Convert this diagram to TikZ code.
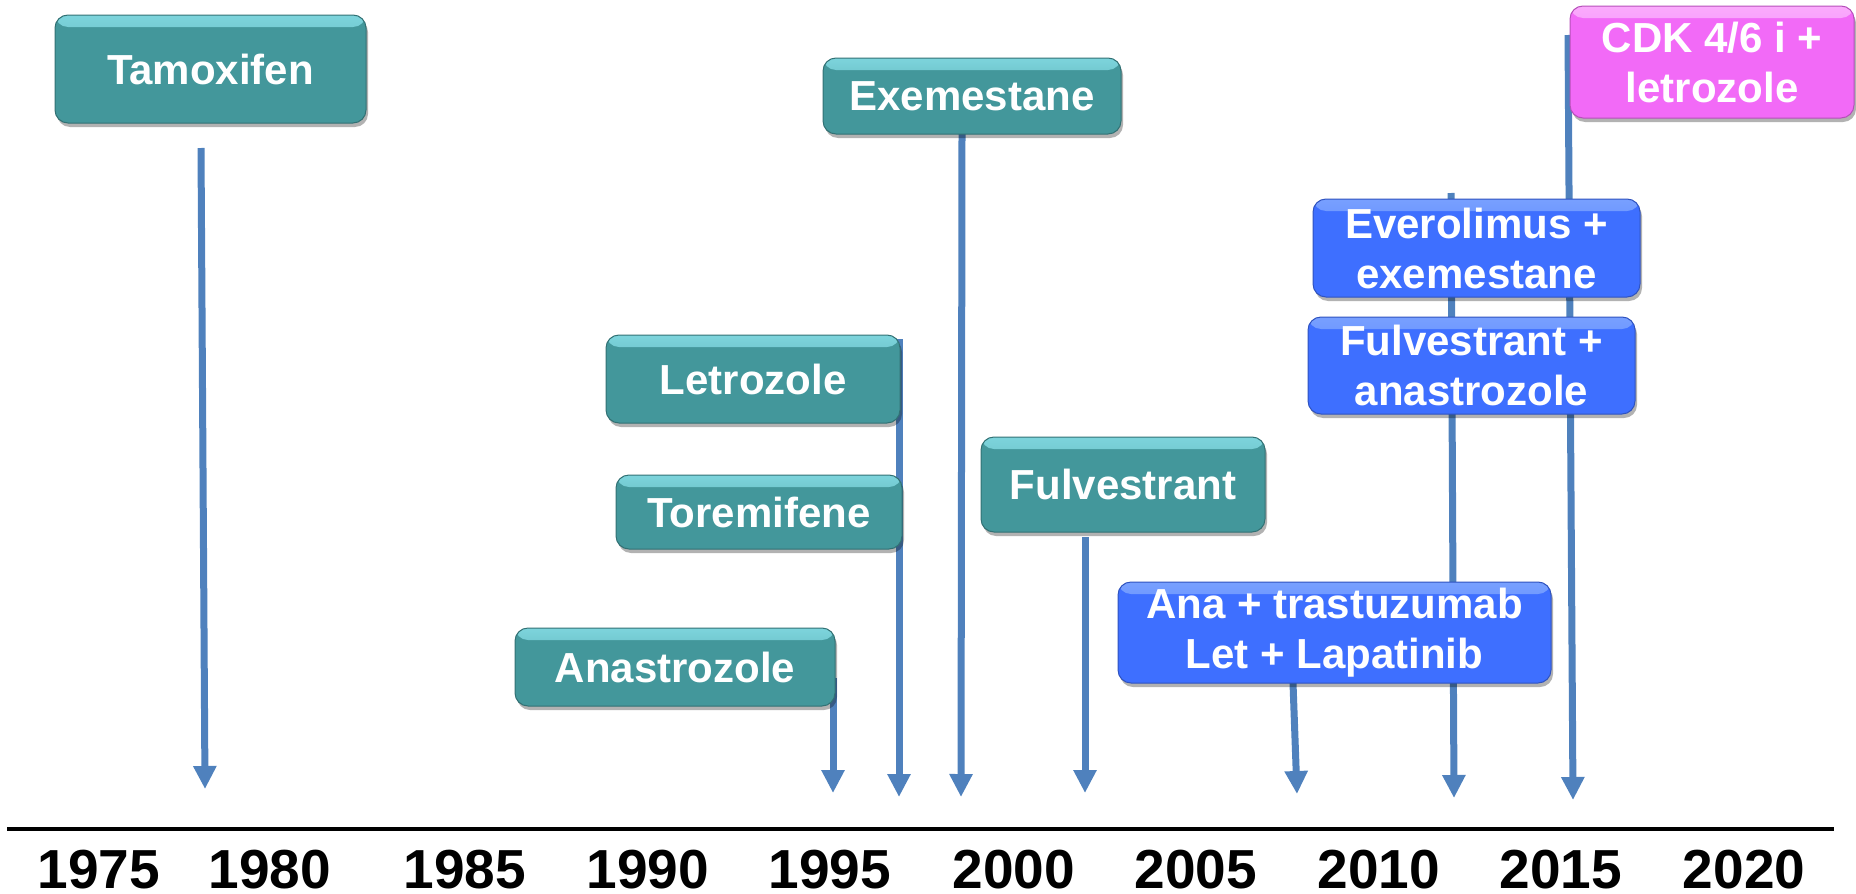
\documentclass[tikz,border=0pt]{standalone}
\usepackage{fontspec}
\setmainfont{Liberation Sans}
\usetikzlibrary{arrows.meta,shadows}
\definecolor{tealbox}{RGB}{67,151,155}
\definecolor{tealtop}{RGB}{125,212,220}
\definecolor{bluebox}{RGB}{62,111,255}
\definecolor{bluetop}{RGB}{120,160,255}
\definecolor{pinkbox}{RGB}{242,106,247}
\definecolor{pinktop}{RGB}{250,170,252}
\definecolor{arrowblue}{RGB}{79,129,189}
\tikzset{
  boxbase/.style={rounded corners=13pt, line width=1pt, text=white,
    font=\fontsize{42}{50}\selectfont\bfseries, align=center, inner sep=0pt,
    drop shadow={shadow xshift=2pt, shadow yshift=-4pt, opacity=0.3, fill=black}},
  tealnode/.style={boxbase, fill=tealbox, draw=tealbox!75!black,
    path picture={\shade[top color=tealtop, bottom color=tealbox]
      (path picture bounding box.north west) rectangle ([yshift=-12pt]path picture bounding box.north east);}},
  bluenode/.style={boxbase, fill=bluebox, draw=bluebox!75!black,
    path picture={\shade[top color=bluetop, bottom color=bluebox]
      (path picture bounding box.north west) rectangle ([yshift=-12pt]path picture bounding box.north east);}},
  pinknode/.style={boxbase, fill=pinkbox, draw=pinkbox!75!black,
    path picture={\shade[top color=pinktop, bottom color=pinkbox]
      (path picture bounding box.north west) rectangle ([yshift=-12pt]path picture bounding box.north east);}},
  timearrow/.style={draw=arrowblue, line width=7pt,
    -{Triangle[width=22pt,length=23pt]}},
  yearlabel/.style={font=\fontsize{55}{60}\selectfont\bfseries, text=black, anchor=base, inner sep=0pt},
}
\begin{document}
\begin{tikzpicture}[x=1pt,y=-1pt]
\useasboundingbox (0,0) rectangle (1856,894);

% arrow end coordinates
\coordinate (tamS) at (201,148);   \coordinate (tamE) at (205,789);
\coordinate (anaS) at (833,678);   \coordinate (anaE) at (833,793);
\coordinate (letS) at (899,339);   \coordinate (letE) at (899,797);
\coordinate (exeS) at (962,134);   \coordinate (exeE) at (961,797);
\coordinate (fulS) at (1085,537);  \coordinate (fulE) at (1085,793);
\coordinate (atrS) at (1293,683);  \coordinate (atrE) at (1297,794);
\coordinate (eveS) at (1451,193);  \coordinate (eveE) at (1454,798);
\coordinate (cdkS) at (1568,35);   \coordinate (cdkE) at (1573,800);

% arrows (behind boxes)
\draw[timearrow] (tamS) -- (tamE);
\draw[timearrow] (anaS) -- (anaE);
\draw[timearrow] (letS) -- (letE);
\draw[timearrow] (exeS) -- (exeE);
\draw[timearrow] (fulS) -- (fulE);
\draw[timearrow] (atrS) -- (atrE);
\draw[timearrow] (eveS) -- (eveE);
\draw[timearrow] (cdkS) -- (cdkE);

% boxes
\node[tealnode, minimum width=311pt, minimum height=108pt] (tam) at (210.5,69) {Tamoxifen};
\node[tealnode, minimum width=298pt, minimum height=76pt] (exe) at (972,96) {Exemestane};
\node[pinknode, minimum width=284pt, minimum height=112pt] (cdk) at (1712,62) {CDK 4/6 i +\\letrozole};
\node[bluenode, minimum width=327pt, minimum height=98pt] (eve) at (1476.5,248) {Everolimus +\\exemestane};
\node[bluenode, minimum width=327pt, minimum height=97pt] (fan) at (1471.5,365.5) {Fulvestrant +\\anastrozole};
\node[tealnode, minimum width=294pt, minimum height=88pt] (let) at (753,379) {Letrozole};
\node[tealnode, minimum width=286pt, minimum height=74pt] (tor) at (759,512) {Toremifene};
\node[tealnode, minimum width=320pt, minimum height=78pt] (ana) at (675,667) {Anastrozole};
\node[tealnode, minimum width=284pt, minimum height=95pt] (ful) at (1123,484.5) {Fulvestrant};
\node[bluenode, minimum width=433pt, minimum height=101pt] (atr) at (1334.5,632.5) {Ana + trastuzumab\\Let + Lapatinib};

% axis
\coordinate (axL) at (7,829);
\coordinate (axR) at (1834,829);
\draw[line width=3.5pt, black] (axL) -- (axR);

% year labels
\node[yearlabel] (y1975) at (99,888) {1975};
\node[yearlabel] (y1980) at (270,888) {1980};
\node[yearlabel] (y1985) at (465,888) {1985};
\node[yearlabel] (y1990) at (648,888) {1990};
\node[yearlabel] (y1995) at (830,888) {1995};
\node[yearlabel] (y2000) at (1014,888) {2000};
\node[yearlabel] (y2005) at (1196,888) {2005};
\node[yearlabel] (y2010) at (1379,888) {2010};
\node[yearlabel] (y2015) at (1561,888) {2015};
\node[yearlabel] (y2020) at (1744,888) {2020};
\end{tikzpicture}
\end{document}
